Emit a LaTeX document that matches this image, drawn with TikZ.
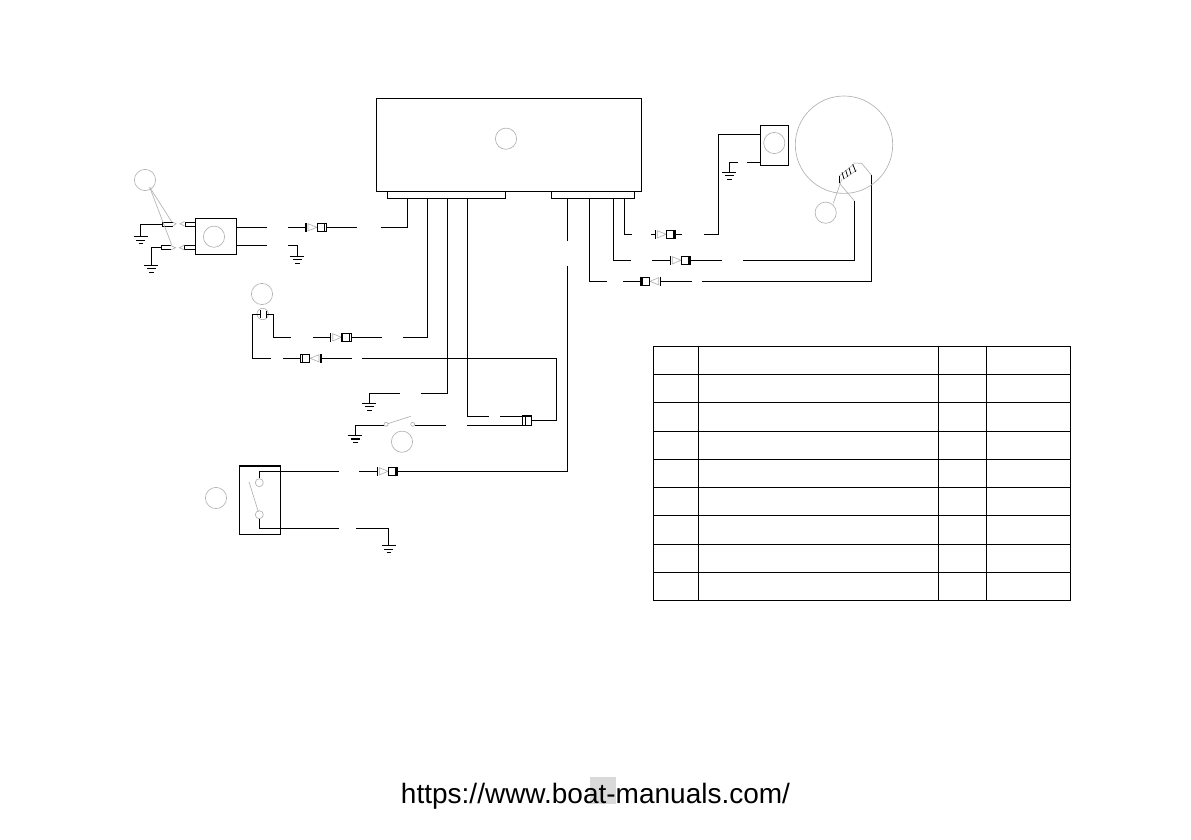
\documentclass[tikz,border=0pt]{standalone}
\usepackage{fontspec}
\setmainfont{Liberation Sans}
\definecolor{leadgray}{gray}{0.70}
\tikzset{
  wire/.style={line width=1.15pt,black,line join=miter},
  thinwire/.style={line width=0.75pt,black},
  lead/.style={line width=0.65pt,leadgray},
  blackbox/.style={draw=black,line width=1.15pt,rectangle,inner sep=0pt},
  callout/.style={draw=leadgray,line width=0.65pt,circle,inner sep=0pt,minimum size=21.2pt},
  terminal/.style={draw=leadgray,line width=0.65pt,circle,inner sep=0pt,fill=white},
  plug/.pic={
    \coordinate (-in) at (0,0);
    \coordinate (-out) at (20.4,0);
    \draw[wire] (0,-4.4) -- (0,4.4);
    \draw[lead] (2,-3.6) -- (2,3.6) -- (10.8,0) -- cycle;
    \draw[wire] (11.3,-4.2) rectangle (18.7,4.2);
    \draw[thinwire] (18.7,-4.2) -- (20.4,-4.2) -- (20.4,4.2) -- (18.7,4.2);
  },
  earth/.pic={
    \coordinate (-t) at (0,0);
    \draw[wire] (-7,0) -- (7,0) (-4.4,3.6) -- (4.4,3.6) (-2.2,7) -- (2.2,7);
  },
}
\begin{document}
\begin{tikzpicture}[x=1pt,y=-1pt]
\useasboundingbox (0,0) rectangle (1191,839);
\fill[white] (0,0) rectangle (1191,839);

% control unit
\node[blackbox,minimum width=265.4pt,minimum height=93.4pt] (ecu) at (509,145) {};
\node[blackbox,minimum width=118pt,minimum height=6.6pt] (cnL) at (446.3,195) {};
\node[blackbox,minimum width=83pt,minimum height=6.6pt] (cnR) at (592.8,195) {};
\node[callout] (n1) at (506,138.7) {};

% pins
\coordinate (p1) at (407.3,198.3);
\coordinate (p2) at (427.3,198.3);
\coordinate (p3) at (447.3,198.3);
\coordinate (p4) at (467.3,198.3);
\coordinate (p5) at (567.3,198.3);
\coordinate (p6) at (589.3,198.3);
\coordinate (p7) at (613.3,198.3);
\coordinate (p8) at (624.3,198.3);

% sensor block, left
\node[blackbox,minimum width=41.4pt,minimum height=36.4pt] (modA) at (216,236.5) {};
\node[callout] (n2) at (214,236.7) {};
\node[callout] (n3) at (145,180) {};
\pic (c1) at (306,227.3) {plug};
\coordinate (a1) at (266.7,227.3);
\coordinate (a2) at (288,227.3);
\coordinate (a3) at (356.7,227.3);
\coordinate (a4) at (381,227.3);
\draw[wire] (236.7,227.3) -- (a1);
\draw[wire] (a2) -- (c1-in);
\draw[wire] (c1-out) -- (a3);
\draw[wire] (a4) -| (p1);
\pic (g1) at (297.3,256.3) {earth};
\coordinate (a5) at (266.7,245.3);
\coordinate (a6) at (288,245.3);
\draw[wire] (236.7,245.3) -- (a5);
\draw[wire] (a6) -| (g1-t);
% terminals on the block's left side
\draw[thinwire] (195.3,222) -- (185,222) -- (185,226) -- (195.3,226);
\draw[thinwire] (162.3,222) -- (172.7,222) (162.3,226) -- (172.7,226) (162.3,222) -- (162.3,226);
\draw[thinwire] (195.3,245.5) -- (184.3,245.5) -- (184.3,249.5) -- (195.3,249.5);
\draw[thinwire] (161.3,245.5) -- (170.7,245.5) (161.3,249.5) -- (170.7,249.5) (161.3,245.5) -- (161.3,249.5);
\draw[lead] (172.7,222) -- (176,223.8) -- (172.7,226) (184.5,221.6) -- (180,223.8) -- (184.5,226);
\draw[lead] (170.7,245.5) -- (175.5,247.7) -- (170.7,250) (184.5,245) -- (179.5,247.7) -- (184.5,250);
\pic (g2) at (140.7,236.7) {earth};
\pic (g3) at (151.3,265.3) {earth};
\coordinate (t1) at (162.3,224.4);
\coordinate (t2) at (161.3,247.7);
\draw[wire] (t1) -| (g2-t);
\draw[wire] (t2) -| (g3-t);
\draw[lead] (n3.south east) ++(-3,-0.4) -- (171.7,221.7);
\draw[lead] (n3.south east) ++(-3,-0.4) -- (171.7,245);

% small connector loop
\node[callout] (n4) at (262,294) {};
\node[terminal,minimum size=11.4pt] (n5) at (262.7,314) {};
\coordinate (b1) at (260.3,314.3);
\coordinate (b2) at (266.4,314.3);
\draw[wire] (260.3,310) -- (260.3,318.4);
\draw[wire] (266.4,310.6) -- (266.4,317.8);
\pic (c2) at (330.7,337.3) {plug};
\pic[xscale=-1] (c3) at (321,358.3) {plug};
\coordinate (b3) at (291,337.3);
\coordinate (b4) at (313,337.3);
\coordinate (b5) at (381.7,337.3);
\coordinate (b6) at (403,337.3);
\coordinate (b7) at (271,358.3);
\coordinate (b8) at (283,358.3);
\coordinate (b9) at (351.7,358.3);
\coordinate (b10) at (362,358.3);
\draw[wire] (b2) -- (273.3,314.3) |- (b3);
\draw[wire] (b4) -- (c2-in);
\draw[wire] (c2-out) -- (b5);
\draw[wire] (b6) -| (p2);
\draw[wire] (b1) -- (252.3,314.3) |- (b7);
\draw[wire] (b8) -- (c3-out);
\draw[wire] (c3-in) -- (b9);

% side connector
\node[blackbox,minimum width=9pt,minimum height=9.3pt] (c4) at (527.2,420.7) {};
\draw[thinwire] (525,416) -- (525,425.3);
\draw[wire] (b10) -- (556.7,358.3) |- (c4.east);

% ground and switch below
\pic (g4) at (369.3,403.3) {earth};
\coordinate (d1) at (400,393.3);
\coordinate (d2) at (421,393.3);
\draw[wire] (p3) |- (d2);
\draw[wire] (d1) -| (g4-t);
\coordinate (e1) at (489,416.3);
\coordinate (e2) at (500,416.3);
\draw[wire] (p4) |- (e1);
\draw[wire] (e2) -- (c4.west |- e2);
\pic (g5) at (355.3,435.4) {earth};
\node[terminal,minimum size=4pt] (s1) at (386,424.3) {};
\node[terminal,minimum size=4pt] (s2) at (412.7,424.3) {};
\draw[lead] (s1) -- (410.7,416.3);
\node[callout] (n6) at (402,441.7) {};
\coordinate (e3) at (446,425.3);
\coordinate (e4) at (467.3,425.3);
\coordinate (e5) at (384.3,425.3);
\coordinate (e6) at (414.7,425.3);
\draw[wire] (e5) -| (g5-t);
\draw[wire] (e6) -- (e3);
\draw[wire] (e4) -- (c4.west |- e4);

% lower left switch
\node[blackbox,minimum width=41pt,minimum height=68.3pt] (swB) at (259.8,500.2) {};
\node[callout] (n7) at (216,498) {};
\node[terminal,minimum size=8pt] (s3) at (259.3,482.7) {};
\node[terminal,minimum size=8pt] (s4) at (259.3,514.7) {};
\draw[lead] (249,481.7) -- (258.3,511.7);
\pic (c5) at (377.3,471.3) {plug};
\coordinate (f1) at (339,471.3);
\coordinate (f2) at (359,471.3);
\coordinate (f3) at (339,528.3);
\coordinate (f4) at (356,528.3);
\draw[wire] (s3.north) |- (f1);
\draw[wire] (f2) -- (c5-in);
\draw[wire] (s4.south) |- (f3);
\pic (g6) at (388.7,545.7) {earth};
\draw[wire] (f4) -| (g6-t);
\coordinate (f5) at (567.3,266);
\coordinate (f6) at (567.3,241);
\draw[wire] (c5-out) -| (f5);
\draw[wire] (p5) -- (f6);

% right side wires
\pic (c6) at (655.3,234.3) {plug};
\coordinate (h1) at (632,234.3);
\coordinate (h2) at (651,234.3);
\coordinate (h3) at (681.7,234.3);
\coordinate (h4) at (704.3,234.3);
\draw[wire] (p8) |- (h1);
\draw[wire] (h2) -- (c6-in);
\draw[wire] (c6-out) -- (h3);
\node[blackbox,minimum width=28pt,minimum height=40pt] (modB) at (774.3,145.3) {};
\node[callout] (n8) at (774.3,143) {};
\draw[wire] (h4) -- (718.3,234.3) |- (modB.west |- 0,134.3);
\pic (g7) at (729.3,172.3) {earth};
\coordinate (h5) at (737.7,162.3);
\coordinate (h6) at (747,162.3);
\draw[wire] (modB.west |- 0,162.3) -- (h6);
\draw[wire] (h5) -| (g7-t);

\pic (c7) at (670.3,260.3) {plug};
\coordinate (i1) at (631,260.3);
\coordinate (i2) at (652,260.3);
\coordinate (i3) at (721.7,260.3);
\coordinate (i4) at (743,260.3);
\coordinate (i5) at (854.3,200.7);
\draw[wire] (p7) |- (i1);
\draw[wire] (i2) -- (c7-in);
\draw[wire] (c7-out) -- (i3);
\draw[wire] (i4) -| (i5);

\pic[xscale=-1] (c8) at (660.7,281.3) {plug};
\coordinate (j1) at (606.7,281.3);
\coordinate (j2) at (623,281.3);
\coordinate (j3) at (691.7,281.3);
\coordinate (j4) at (702,281.3);
\coordinate (j5) at (871.3,175);
\draw[wire] (p6) |- (j1);
\draw[wire] (j2) -- (c8-out);
\draw[wire] (c8-in) -- (j3);
\draw[wire] (j4) -| (j5);

% large gauge
\node[callout,minimum size=97.4pt] (gauge) at (844,144.7) {};
\node[callout] (n9) at (825.7,212.7) {};
\draw[lead] (833.3,203.3) -- (841.7,179.3);
\draw[lead] (839.5,183.3) -- (i5);
\draw[lead] (839.3,176) -- (854,164);
\draw[lead] (843.5,179.3) -- (856.7,170);
\draw[lead] (853.5,163) -- (861.7,163.3) -- (j5);
\draw[thinwire] (842,172.3) -- (844,179) (845.7,170.3) -- (847.7,176.7) (849,167.7) -- (851,174.3) (852.7,164.3) -- (855.7,171.7);
\draw[thinwire] (839.3,176) -- (839.3,183);

% table
\draw[wire] (653.7,346.7) rectangle (1070.3,600.3);
\foreach \tx in {698.3,938.3,986.3}
  \draw[wire] (\tx,346.7) -- (\tx,600.3);
\foreach \ty in {374.3,402.3,431.3,459.3,487.3,515.3,544.3,572.3}
  \draw[wire] (653.7,\ty) -- (1070.3,\ty);

% footer
\fill[gray!30] (590,777.3) rectangle (616,804.3);
\node[inner sep=0pt,anchor=base,font=\fontsize{28}{32}\selectfont] (url) at (595.5,803.3) {https://www.boat-manuals.com/};
\end{tikzpicture}
\end{document}
